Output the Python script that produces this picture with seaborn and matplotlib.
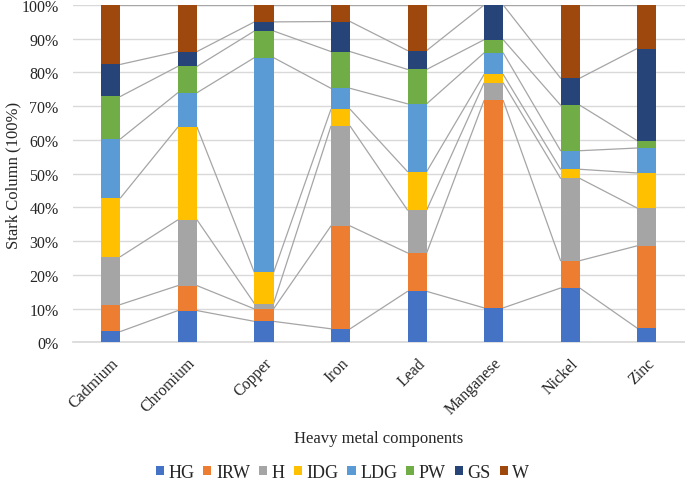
import numpy as np
import pandas as pd
import matplotlib
matplotlib.use("Agg")
import matplotlib.pyplot as plt
from matplotlib.patches import Patch
import seaborn as sns

metals = ["Cadmium", "Chromium", "Copper", "Iron", "Lead", "Manganese", "Nickel", "Zinc"]
components = ["HG", "IRW", "H", "IDG", "LDG", "PW", "GS", "W"]

# percentage share of each component per metal
HG = [3.2, 9.4, 6.2, 4.0, 15.1, 10.2, 16.1, 4.2]
IRW = [8.0, 7.4, 3.7, 30.5, 11.4, 61.5, 8.1, 24.4]
H = [14.2, 19.5, 1.6, 29.6, 12.7, 5.2, 24.4, 11.2]
IDG = [17.4, 27.5, 9.2, 5.0, 11.4, 2.5, 2.7, 10.4]
LDG = [17.5, 10.2, 63.7, 6.2, 20.1, 6.4, 5.5, 7.4]
PW = [12.6, 7.8, 7.9, 10.9, 10.2, 3.9, 13.5, 2.2]
GS = [9.5, 4.4, 2.7, 8.9, 5.6, 10.3, 8.0, 27.3]
W = [17.6, 13.8, 5.0, 4.9, 13.5, 0.0, 21.7, 12.9]

colors = ["#4472C4", "#ED7D31", "#A5A5A5", "#FFC000", "#5B9BD5", "#70AD47", "#264478", "#9E480E"]

df = pd.DataFrame({"HG": HG, "IRW": IRW, "H": H, "IDG": IDG, "LDG": LDG,
                   "PW": PW, "GS": GS, "W": W}, index=metals)
pct = df.div(df.sum(axis=1), axis=0) * 100
cum = pct.cumsum(axis=1)

sns.set_theme(style="white")
plt.rcParams["font.family"] = ["Liberation Serif", "DejaVu Serif"]

fig = plt.figure(figsize=(6.85, 4.81), dpi=100)
ax = fig.add_axes([0.106, 0.2863, 0.894, 0.7012])

bw = 0.25
# overlay cumulative bars, tallest first
for comp, col in reversed(list(zip(components, colors))):
    sns.barplot(x=metals, y=cum[comp].values, color=col, width=bw,
                saturation=1, ax=ax, zorder=3, linewidth=0)

# series lines between adjacent bars
for comp in components:
    vals = cum[comp].values
    for i in range(len(metals) - 1):
        ax.plot([i + bw / 2, i + 1 - bw / 2], [vals[i], vals[i + 1]],
                color="#A5A5A5", lw=0.9, zorder=2)

ax.set_xlim(-0.5, len(metals) - 0.5)
ax.set_ylim(0, 100)
ax.set_yticks(np.arange(0, 101, 10))
ax.set_yticklabels([f"{v}%" for v in range(0, 101, 10)], fontsize=11.5)
ax.set_xticks(range(len(metals)))
ax.set_xticklabels(metals, rotation=45, ha="right", rotation_mode="anchor", fontsize=11.5)
ax.tick_params(axis="y", length=0, pad=10)
ax.tick_params(axis="x", length=0, pad=9)
ax.yaxis.grid(True, color="#D9D9D9", lw=1, zorder=0)
ax.set_axisbelow(True)
for s in ["top", "right", "left"]:
    ax.spines[s].set_visible(False)
ax.spines["bottom"].set_color("#D9D9D9")

ax.set_ylabel("")
fig.text(13 / 685, 1 - 175 / 481, "Stark Column (100%)", rotation=90,
         ha="center", va="center", fontsize=12)
ax.set_xlabel("Heavy metal components", fontsize=12, labelpad=9)

handles = [Patch(facecolor=c, edgecolor="none", label=n) for n, c in zip(components, colors)]
fig.legend(handles=handles, loc="center", bbox_to_anchor=(0.5, 0.016), ncol=8,
           frameon=False, fontsize=13, handlelength=0.45, handleheight=0.45,
           handletextpad=0.25, columnspacing=0.5)

fig.savefig("out.png", dpi=100)
